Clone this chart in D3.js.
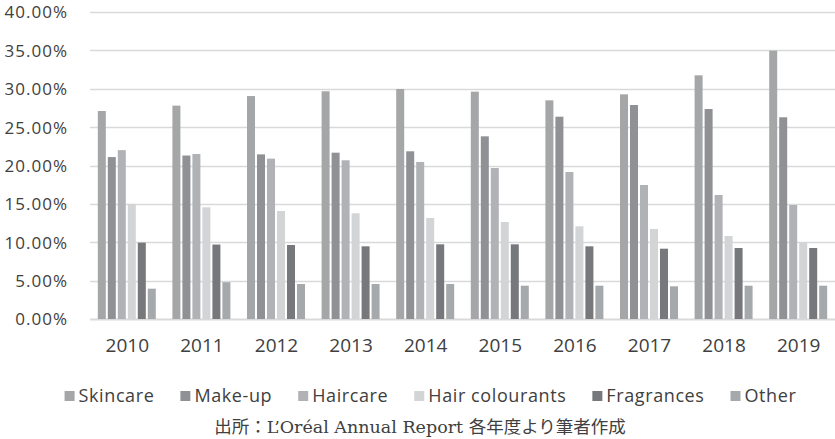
<html lang="ja">
<head>
<meta charset="UTF-8">
<title>L'Oréal sales share by category</title>
<style>
  body { margin: 0; background: #fff; }
  .tick text, .legend text { font-family: 'Open Sans', sans-serif; fill: #404040; }
  .source { font-family: 'DejaVu Serif', 'Noto Sans CJK JP', serif; fill: #404040; }
</style>
</head>
<body>
<div id="chart"></div>
<script src="https://d3js.org/d3.v7.min.js"></script>
<script>
const years = ["2010","2011","2012","2013","2014","2015","2016","2017","2018","2019"];
const seriesNames = ["Skincare","Make-up","Haircare","Hair colourants","Fragrances","Other"];
const skincare   = [27.1, 27.8, 29.05, 29.67, 29.97, 29.62, 28.49, 29.27, 31.75, 34.96];
const makeup     = [21.1, 21.3, 21.45, 21.67, 21.85, 23.8, 26.36, 27.88, 27.36, 26.28];
const haircare   = [22.0, 21.5, 20.9, 20.68, 20.46, 19.67, 19.15, 17.46, 16.16, 14.85];
const colourants = [15.0, 14.55, 14.07, 13.77, 13.16, 12.64, 12.08, 11.73, 10.81, 9.99];
const fragrances = [9.95, 9.7, 9.64, 9.47, 9.73, 9.73, 9.47, 9.16, 9.25, 9.25];
const other      = [3.95, 4.8, 4.56, 4.56, 4.56, 4.34, 4.34, 4.26, 4.34, 4.34];
const yTicks = [0, 5, 10, 15, 20, 25, 30, 35, 40];
const sourceText = "出所：L’Oréal Annual Report 各年度より筆者作成";

const values = [skincare, makeup, haircare, colourants, fragrances, other];
const colors = ["#a5a6a8", "#909195", "#b1b2b5", "#d3d4d6", "#77787c", "#a6a9ab"];

const W = 835, H = 439;
const plotLeft = 90, plotRight = 836, plotTop = 12, plotBottom = 319;

const svg = d3.select("#chart").append("svg")
  .attr("width", W).attr("height", H);

const y = d3.scaleLinear().domain([0, 40]).range([plotBottom, plotTop]);
const x0 = d3.scaleBand().domain(years).range([plotLeft, plotRight])
  .paddingInner(0.196).paddingOuter(0.098);
const x1 = d3.scaleBand().domain(seriesNames).range([0, x0.bandwidth()]);

// gridlines
svg.append("g")
  .selectAll("line")
  .data(yTicks)
  .join("line")
  .attr("x1", plotLeft).attr("x2", W)
  .attr("y1", d => Math.round(y(d)) + 0.5)
  .attr("y2", d => Math.round(y(d)) + 0.5)
  .attr("stroke", "#d9d9d9")
  .attr("stroke-width", d => d === 0 ? 2 : 1.5);

// y axis labels
const yAxis = svg.append("g")
  .attr("transform", `translate(${plotLeft - 22},0)`)
  .call(d3.axisLeft(y).tickValues(yTicks).tickFormat(d => d.toFixed(2) + "%").tickSize(0).tickPadding(0));
yAxis.select(".domain").remove();
yAxis.selectAll("text").attr("font-size", 17).attr("letter-spacing", 1).attr("dy", "0.35em");

// bars
const groups = svg.append("g")
  .selectAll("g")
  .data(years)
  .join("g")
  .attr("transform", d => `translate(${x0(d)},0)`);

groups.selectAll("rect")
  .data((d, i) => seriesNames.map((s, j) => ({ s, j, v: values[j][i] })))
  .join("rect")
  .attr("x", d => x1(d.s) + 0.5)
  .attr("width", x1.bandwidth() - 2)
  .attr("y", d => y(d.v))
  .attr("height", d => plotBottom - y(d.v))
  .attr("fill", d => colors[d.j]);

// x axis labels
const xAxis = svg.append("g")
  .attr("transform", `translate(0,${plotBottom})`)
  .call(d3.axisBottom(x0).tickSize(0).tickPadding(20));
xAxis.select(".domain").remove();
xAxis.selectAll("text").attr("font-size", 19).attr("dy", "0.71em");

// legend
const legend = svg.append("g").attr("class", "legend");
const items = legend.selectAll("g")
  .data(seriesNames)
  .join("g");
items.append("rect")
  .attr("width", 10).attr("height", 10)
  .attr("y", -11)
  .attr("fill", (d, i) => colors[i]);
items.append("text")
  .attr("x", 14)
  .attr("font-size", 18)
  .attr("letter-spacing", 0.6)
  .text(d => d);
let pos = 0;
const gap = 26;
items.each(function() {
  const g = d3.select(this);
  g.attr("transform", `translate(${pos},0)`);
  pos += 14 + g.select("text").node().getComputedTextLength() + gap;
});
pos -= gap;
legend.attr("transform", `translate(${(W - pos) / 2 + 13},${402})`);

// source note
svg.append("text")
  .attr("class", "source")
  .attr("x", 420).attr("y", 433)
  .attr("text-anchor", "middle")
  .attr("font-size", 17.5)
  .text(sourceText);
</script>
</body>
</html>
